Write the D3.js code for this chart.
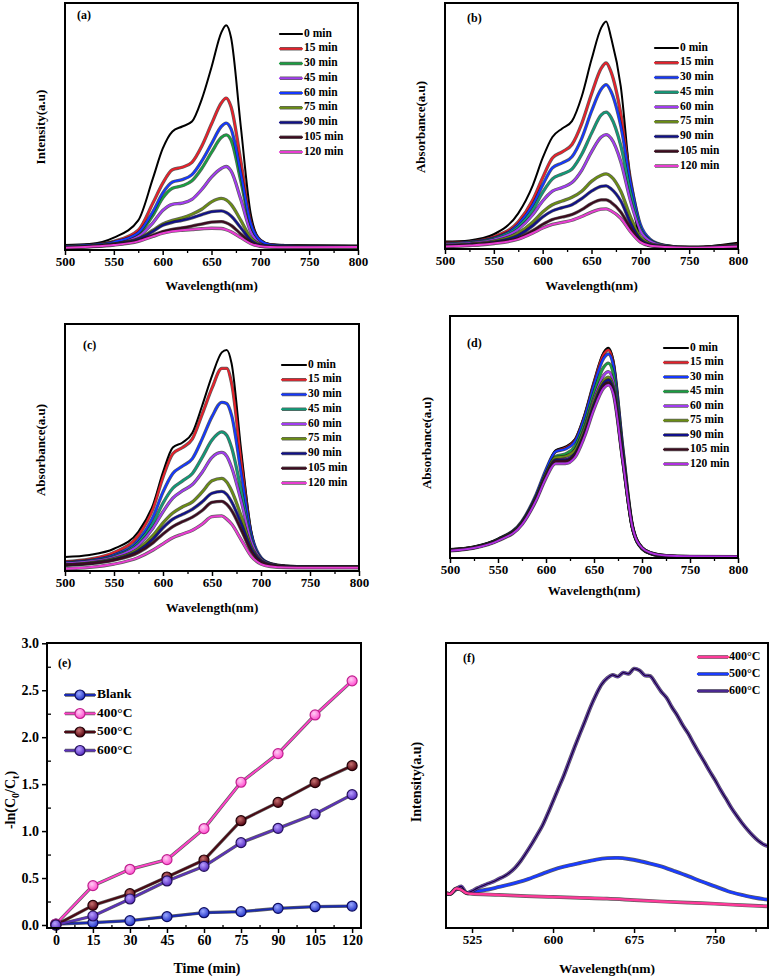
<!DOCTYPE html>
<html><head><meta charset="utf-8">
<script src="https://cdn.jsdelivr.net/npm/d3@7"></script>
<style>
body{margin:0;background:#fff;}
svg text{font-family:"Liberation Serif","Times New Roman",serif;font-weight:bold;fill:#000;}
</style></head><body>
<svg id="fig" width="774" height="979"></svg>
<script>
// ---------- DATA ----------
const wavelengths = [500,525,550,575,590,600,610,620,630,640,650,660,665,670,680,690,700,710,725,750,800];
const timeLabels = ["0 min","15 min","30 min","45 min","60 min","75 min","90 min","105 min","120 min"];
const spectrumTicks = [500,550,600,650,700,750,800];

// (a) Intensity (relative, 0-100 of plot height), legend order
const panelA = [
  [2.0,2.4,5.0,12,29,41,48,50,52,61,74,88,91,86,50,15,4,2.3,2.0,1.8,1.6],
  [1.5,2.0,3.5,8,19,27,32.5,33.5,35.5,42,51,59.5,61.5,58,36,12,4,2.2,1.8,1.6,1.5],
  [1.5,1.9,3.0,6.5,14,21,25,26,28,33,39.5,45.5,46.6,44.5,28,10,3.5,2.0,1.7,1.6,1.5],
  [1.4,1.8,2.8,5.5,11,16,18.5,19,20.5,24.5,29.5,33,33.8,32,20.5,7.5,3,1.8,1.6,1.5,1.5],
  [1.5,1.9,3.2,7,15.5,23,27.5,28.5,30.5,36,43,50,51.4,49,31,11,3.8,2.1,1.7,1.6,1.5],
  [1.2,1.6,2.5,4.5,8,10.5,12,13,14.5,16.5,19.5,20.9,20.3,18.5,12,5,2.3,1.6,1.5,1.4,1.4],
  [1.1,1.5,2.4,4.3,7.5,10,11.2,12,13,14.3,15.5,15.8,15.2,13.8,9,4,2,1.5,1.4,1.4,1.4],
  [1.0,1.4,2.2,3.8,6,7.5,8.4,9,9.7,10.5,11.3,11.5,11,10,6.5,3.2,1.7,1.3,1.2,1.2,1.3],
  [0.9,1.3,2.0,3.5,5.5,6.8,7.6,8.0,8.3,8.6,8.8,8.7,8.2,7.4,5,2.6,1.5,1.2,1.1,1.1,1.2]
];
const colorsA = ["#000000","#e8202a","#18a040","#a23cf0","#1438ff","#6b8e12","#10108a","#3c0a1e","#e83cd2"];

// (b) Absorbance
const panelB = [
  [3,3.5,6,14.5,26,37,45.5,49,52,62,77,90,92.5,86,66,27,4,1.2,0.8,0.6,2.5],
  [2.5,3,5,11,20,29,37,39.5,42.5,51,63,73.5,75.6,72,55,28,9,3,1.2,0.6,1.8],
  [2,2.8,4.5,10,18,26,33,35,37.5,45,56,65,66.8,64,50,27,10,4,1.5,0.6,1.5],
  [2,2.6,4.2,9,16,23,28.5,30.5,32.5,38.5,47,54.5,55.6,53.5,42,23,8.5,3.5,1.4,0.6,1.5],
  [1.8,2.4,3.8,8,14,19.5,23.5,25,27,32,39.5,45.5,46.5,45,35.5,19.5,7.5,3.2,1.3,0.6,1.4],
  [1.5,2.0,3.2,6.5,11,15,18,19.5,21,23.5,27.5,30,30.5,29.5,23.5,13,5,2.2,1.1,0.5,1.2],
  [1.3,1.8,2.8,5.5,9.5,13,15.5,16.8,18,20.5,23.5,25.5,25.7,24.5,19.5,10.5,4,1.8,1,0.5,1.2],
  [1.2,1.6,2.5,4.5,7.5,10,12,13,14,16,18.5,20,20,19,15,8.5,3.3,1.5,0.9,0.5,1.1],
  [1,1.4,2.2,4,6.5,8.5,10,10.8,11.7,13.2,15,16.2,16.3,15.5,12.5,7,2.8,1.3,0.8,0.5,1.0]
];
const colorsB = ["#000000","#e8202a","#1438ff","#109a78","#a23cf0","#6b8e12","#10108a","#3c0a1e","#e83cd2"];

// (c) Absorbance
const panelC = [
  [5.7,6.5,9,16,27,40,50,52,56,67,79,88.5,89.5,84,48,16,5,2.8,2,1.7,1.6],
  [3.8,4.8,7.5,14.5,25.5,38,47.5,50,53.5,63.5,74,82,82,76,44,15,5,2.8,2,1.7,1.6],
  [3.5,4.3,6.5,12.5,22,32,39.5,42.5,45.5,53.5,62.5,68.3,67.8,63,39,15,5.5,3,2,1.7,1.6],
  [3.2,4,6,11.5,19.5,27.5,33.5,36.5,39.5,46,53,56.3,55,50,32,13,5,2.8,1.9,1.7,1.6],
  [3.0,3.8,5.6,10.5,17.5,24,29.5,32.5,35,40,46,48,46.5,42,28,12,4.8,2.7,1.9,1.7,1.6],
  [2.5,3.3,5,9,14.5,19.5,23.5,26,28,32,36.5,37.5,36,32.5,22,10,4.3,2.5,1.8,1.6,1.6],
  [2.3,3,4.6,8.2,13,17.5,21,23,25,28,31.5,32.2,31,28,19,9,4,2.4,1.8,1.6,1.6],
  [2.5,3.0,4.4,7.5,11.5,15,18,20,21.8,24.5,27.8,28.2,27,24.5,16.5,8,3.6,2.3,1.7,1.6,1.6],
  [0.9,1.5,2.8,5.5,8.5,11,13.5,15,16.5,19,22,22.3,21,19,12.5,6,2.8,1.8,1.4,1.3,1.3]
];
const colorsC = ["#000000","#e8202a","#1438ff","#109a78","#a23cf0","#6b8e12","#10108a","#3c0a1e","#e83cd2"];

// (d) Absorbance
const panelD = [
  [3.4,4.5,7.8,15,26,36,44.5,46,49,59,73,85,86.9,82,45,13,4,1.8,0.8,0.5,0.4],
  [3.4,4.5,7.7,14.8,25.8,35.8,44,45.5,48.5,58.5,72.5,84.2,86,81,45,13.2,4.2,2,1,0.6,0.5],
  [3.4,4.5,7.8,15.2,26.5,36.5,44,45,48,58,71.5,82.5,84.3,80,45.5,13.5,4.2,1.9,0.9,0.5,0.4],
  [3.3,4.4,7.6,14.7,25.5,35,42,43,46,55.5,68.5,78.8,80.5,76.5,43.5,13,4,1.8,0.7,0.4,0.3],
  [3.3,4.4,7.5,14.5,25,34.5,41,41.5,44.5,53.5,66,75.5,77,73,42,12.8,4,1.8,0.7,0.4,0.3],
  [3.3,4.4,7.6,14.6,25.3,34.8,41.5,42,44.5,53,65,73.3,74.7,71,41,12.5,3.9,1.7,0.7,0.4,0.3],
  [3.2,4.3,7.4,14.3,24.8,34,40.5,40.5,43,51.5,63.5,72.2,73.6,70,40.5,12.5,3.9,1.7,0.7,0.4,0.3],
  [3.2,4.3,7.3,14.2,24.6,33.8,40,40,42.5,51,62.5,71.2,72.5,69,40.5,12.8,4.2,1.9,0.9,0.6,0.5],
  [3.0,4.1,7.1,13.8,24,33,39,39,41.5,50,61.5,70.2,71.5,68,40,12.8,4.2,2,1,0.7,0.6]
];
const colorsD = ["#000000","#e8202a","#1438ff","#18a040","#a23cf0","#6b8e12","#10108a","#3c0a1e","#b030e0"];

// (e) kinetics
const timeMin = [0,15,30,45,60,75,90,105,120];
const kineticLabels = ["Blank","400°C","500°C","600°C"];
const kBlank = [0.01,0.025,0.046,0.089,0.131,0.142,0.177,0.195,0.202];
const k400 = [0.01,0.419,0.593,0.696,1.026,1.52,1.825,2.237,2.60];
const k500 = [0.0,0.209,0.333,0.511,0.692,1.111,1.306,1.516,1.697];
const k600 = [0.0,0.096,0.277,0.469,0.625,0.877,1.029,1.182,1.388];
const kTicksX = [0,15,30,45,60,75,90,105,120];
const kTicksY = [0,0.5,1.0,1.5,2.0,2.5,3.0];

// (f) PL spectra
const plLabels = ["400°C","500°C","600°C"];
const pl400x = [500,505,510,515,520,525,550,575,600,625,650,675,700,725,750,775,800];
const pl400y = [12.3,12,13.8,13.4,12.2,12,11.6,11.2,10.9,10.6,10.3,9.8,9.3,8.9,8.5,8.0,7.6];
const pl500x = [500,505,510,515,520,525,540,550,560,575,590,600,610,625,640,650,660,670,680,690,700,712,725,737,750,762,775,787,800];
const pl500y = [12.3,12.0,13.8,13.5,12.3,12.6,13.5,14.4,15.3,16.9,19,20.4,21.5,22.8,24,24.5,24.6,24.2,23.5,22.6,21.6,20,18.2,16.4,14.6,12.9,11.6,10.6,9.9];
const pl600x = [500,505,510,515,520,525,530,535,540,545,550,555,560,565,570,575,580,585,590,595,600,605,610,615,620,625,630,635,640,645,650,655,660,665,670,675,680,685,690,695,700,705,710,715,720,725,730,735,740,745,750,755,760,765,770,775,780,785,790,795,800];
const pl600y = [12.3,12.0,13.5,14.6,12.3,13,14,14.8,15.6,16.3,17.3,18.2,19.5,21.2,23.5,26.3,29.3,32.5,35.8,40,44.5,49,53.5,58.5,63.5,68.3,73,77.8,82,85.5,87.6,88.8,88.2,89.6,89.2,91,90.4,88.6,88.4,85.8,83,80.8,77.5,74.6,71.2,68.3,64.8,61.5,58.3,55,51.9,48.5,45.4,42.2,39.4,36.8,34.5,32.4,30.6,29.3,28.6];

// ---------- DRAWING ----------
const svg = d3.select("#fig");
const defs = svg.append("defs");
let clipId = 0;

function addClip(x0,x1,y0,y1){
  const id = "clip" + (clipId++);
  defs.append("clipPath").attr("id",id).append("rect")
    .attr("x",x0).attr("y",y0).attr("width",x1-x0).attr("height",y1-y0);
  return id;
}
function frame(g,x0,x1,y0,y1){
  g.append("rect").attr("x",x0).attr("y",y0).attr("width",x1-x0).attr("height",y1-y0)
   .attr("fill","none").attr("stroke","#000").attr("stroke-width",2);
}
function styledLine(g, d, color, w){
  if (color !== "#000000") {
    g.append("path").attr("d",d).attr("fill","none").attr("stroke","#1a1a1a")
     .attr("stroke-width",w+1.3).attr("stroke-opacity",0.7).attr("stroke-linejoin","round");
  }
  g.append("path").attr("d",d).attr("fill","none").attr("stroke",color)
   .attr("stroke-width",w).attr("stroke-linejoin","round").attr("stroke-linecap","round");
}
function bottomAxis(g, x, y, major, minor, fmt, fs, majorLen, minorLen){
  const a = g.append("g").attr("transform",`translate(0,${y})`)
    .call(d3.axisBottom(x).tickValues(major).tickSize(majorLen).tickPadding(2).tickFormat(fmt));
  a.select(".domain").remove();
  a.attr("font-size",fs).attr("font-family",null);
  a.selectAll("line").attr("stroke-width",1.5);
  if (minor) {
    const m = g.append("g").attr("transform",`translate(0,${y})`)
      .call(d3.axisBottom(x).tickValues(minor).tickSize(minorLen).tickFormat(""));
    m.select(".domain").remove();
    m.selectAll("line").attr("stroke-width",1.3);
  }
}
function rotLabel(g, x, y, txt, fs){
  return g.append("text").attr("transform",`translate(${x},${y}) rotate(-90)`)
    .attr("text-anchor","middle").attr("dominant-baseline","middle").attr("font-size",fs).text(txt);
}

function spectrumPanel(o){
  const g = svg.append("g");
  const x = d3.scaleLinear().domain([500,800]).range([o.x0,o.x1]);
  const y = d3.scaleLinear().domain([0,100]).range([o.y1,o.y0]);
  const cid = addClip(o.x0,o.x1,o.y0,o.y1);
  const cg = g.append("g").attr("clip-path",`url(#${cid})`);
  const line = d3.line().x((d,i)=>x(wavelengths[i])).y(d=>y(d)).curve(d3.curveMonotoneX);
  o.series.forEach((s,i)=> styledLine(cg, line(s), o.colors[i], 2.0));
  frame(g,o.x0,o.x1,o.y0,o.y1);
  bottomAxis(g, x, o.y1, spectrumTicks, [525,575,625,675,725,775], d3.format("d"), 13, 5, 3);
  g.append("text").attr("x",o.lx).attr("y",o.ly).attr("font-size",12).text(o.letter);
  rotLabel(g, o.ylx, o.yly, o.ylabel, 13);
  g.append("text").attr("x",(o.x0+o.x1)/2).attr("y",o.ty).attr("text-anchor","middle")
    .attr("font-size",13).text("Wavelength(nm)");
  // legend
  timeLabels.forEach((t,i)=>{
    const yy = o.legY + i*o.legDy;
    styledLine(g, `M${o.legX},${yy}H${o.legX+o.legLen}`, o.colors[i], 2.2);
    g.append("text").attr("x",o.legX+o.legLen+2).attr("y",yy).attr("dominant-baseline","middle")
      .attr("font-size",11.5).text(t);
  });
}

spectrumPanel({x0:65,x1:358,y0:3,y1:250,series:panelA,colors:colorsA,letter:"(a)",lx:77,ly:19,
  ylabel:"Intensity(a.u)",ylx:42,yly:127,ty:290,legX:280,legY:34,legDy:14.75,legLen:22});
spectrumPanel({x0:445,x1:738,y0:3,y1:249,series:panelB,colors:colorsB,letter:"(b)",lx:467,ly:22,
  ylabel:"Absorbance(a.u)",ylx:422,yly:127,ty:290,legX:655,legY:48,legDy:14.75,legLen:23});
spectrumPanel({x0:65,x1:359,y0:324,y1:571,series:panelC,colors:colorsC,letter:"(c)",lx:83,ly:349,
  ylabel:"Absorbance(a.u)",ylx:42,yly:450,ty:612,legX:282,legY:365,legDy:14.75,legLen:24});
spectrumPanel({x0:450,x1:738,y0:316,y1:558,series:panelD,colors:colorsD,letter:"(d)",lx:467,ly:347,
  ylabel:"Absorbance(a.u)",ylx:428,yly:443,ty:595,legX:664,legY:348,legDy:14.5,legLen:24});

// ---------- (e) ----------
(function(){
  const x0=47,x1=361,y0=643,y1=928;
  const g = svg.append("g");
  const x = d3.scaleLinear().domain([-3.6,123.6]).range([x0,x1]);
  const y = d3.scaleLinear().domain([-0.032,3.003]).range([y1,y0]);
  const series = [kBlank,k400,k500,k600];
  const lineCol = ["#1a2ab0","#ff40c8","#4a0a14","#5a32b8"];
  const gradIn = ["#9aa8ff","#ffd0f4","#c87070","#b8a0ff"];
  const gradOut = ["#2434c8","#ff4cd0","#50000e","#5428c0"];
  const edge = ["#0c0c60","#c0208e","#200006","#24105c"];
  series.forEach((s,i)=>{
    const gr = defs.append("radialGradient").attr("id","mk"+i).attr("cx","40%").attr("cy","35%").attr("r","65%");
    gr.append("stop").attr("offset","0%").attr("stop-color",gradIn[i]);
    gr.append("stop").attr("offset","100%").attr("stop-color",gradOut[i]);
  });
  const line = d3.line().x((d,i)=>x(timeMin[i])).y(d=>y(d));
  series.forEach((s,i)=>{
    styledLine(g, line(s), lineCol[i], 2.0);
  });
  series.forEach((s,i)=>{
    g.selectAll(null).data(s).enter().append("circle")
      .attr("cx",(d,j)=>x(timeMin[j])).attr("cy",d=>y(d)).attr("r",5)
      .attr("fill",`url(#mk${i})`).attr("stroke",edge[i]).attr("stroke-width",1.2);
  });
  frame(g,x0,x1,y0,y1);
  bottomAxis(g, x, y1, kTicksX, [7.5,22.5,37.5,52.5,67.5,82.5,97.5,112.5], d3.format("d"), 14, 5, -3);
  const ay = g.append("g").attr("transform",`translate(${x0},0)`)
    .call(d3.axisLeft(y).tickValues(kTicksY).tickSize(5).tickPadding(3).tickFormat(d3.format(".1f")));
  ay.select(".domain").remove();
  ay.attr("font-size",14).attr("font-family",null);
  ay.selectAll("line").attr("stroke-width",1.5);
  const my = g.append("g").attr("transform",`translate(${x0},0)`)
    .call(d3.axisLeft(y).tickValues([0.25,0.75,1.25,1.75,2.25,2.75]).tickSize(-4).tickFormat(""));
  my.select(".domain").remove();
  my.selectAll("line").attr("stroke-width",1.3);
  g.append("text").attr("x",58).attr("y",667).attr("font-size",12).text("(e)");
  g.append("text").attr("x",(x0+x1)/2+3).attr("y",973).attr("text-anchor","middle").attr("font-size",14).text("Time (min)");
  const yl = g.append("text").attr("transform","translate(15,800) rotate(-90)")
    .attr("text-anchor","middle").attr("font-size",14);
  yl.append("tspan").text("-ln(C");
  yl.append("tspan").attr("dy",4).attr("font-size",10).text("0");
  yl.append("tspan").attr("dy",-4).text("/C");
  yl.append("tspan").attr("dy",4).attr("font-size",10).text("t");
  yl.append("tspan").attr("dy",-4).text(")");
  kineticLabels.forEach((t,i)=>{
    const yy = 695 + i*18.5;
    styledLine(g, `M65,${yy}H95`, lineCol[i], 2.2);
    g.append("circle").attr("cx",80).attr("cy",yy).attr("r",5)
      .attr("fill",`url(#mk${i})`).attr("stroke",edge[i]).attr("stroke-width",1.2);
    g.append("text").attr("x",97).attr("y",yy).attr("dominant-baseline","middle").attr("font-size",13.5).text(t);
  });
})();

// ---------- (f) ----------
(function(){
  const x0=446,x1=768,y0=643,y1=928;
  const g = svg.append("g");
  const x = d3.scaleLinear().domain([500.9,799]).range([x0,x1]);
  const y = d3.scaleLinear().domain([0,100]).range([y1,y0]);
  const cid = addClip(x0,x1,y0,y1);
  const cg = g.append("g").attr("clip-path",`url(#${cid})`);
  const mk = (xs,ys)=> d3.line().x((d,i)=>x(xs[i])).y(d=>y(d)).curve(d3.curveCatmullRom)(ys);
  styledLine(cg, mk(pl500x,pl500y), "#1a3cff", 2.6);
  styledLine(cg, mk(pl600x,pl600y), "#6a3cc8", 2.6);
  cg.append("path").attr("d",mk(pl600x,pl600y)).attr("fill","none").attr("stroke","#1a0830").attr("stroke-width",1.2);
  styledLine(cg, mk(pl400x,pl400y), "#ff3a9a", 2.4);
  frame(g,x0,x1,y0,y1);
  bottomAxis(g, x, y1, [525,600,675,750], [562.5,637.5,712.5,787.5], d3.format("d"), 13, 5, 4);
  g.append("text").attr("x",463).attr("y",662).attr("font-size",12).text("(f)");
  rotLabel(g, 418, 782, "Intensity(a.u)", 14);
  g.append("text").attr("x",607).attr("y",973).attr("text-anchor","middle").attr("font-size",13.5).text("Wavelength(nm)");
  const lc = ["#ff3a9a","#1a3cff","#4a2890"];
  plLabels.forEach((t,i)=>{
    const yy = 657 + i*17;
    styledLine(g, `M698,${yy}H728`, lc[i], 2.4);
    g.append("text").attr("x",729).attr("y",yy).attr("dominant-baseline","middle").attr("font-size",12).text(t);
  });
})();
</script>
</body></html>
